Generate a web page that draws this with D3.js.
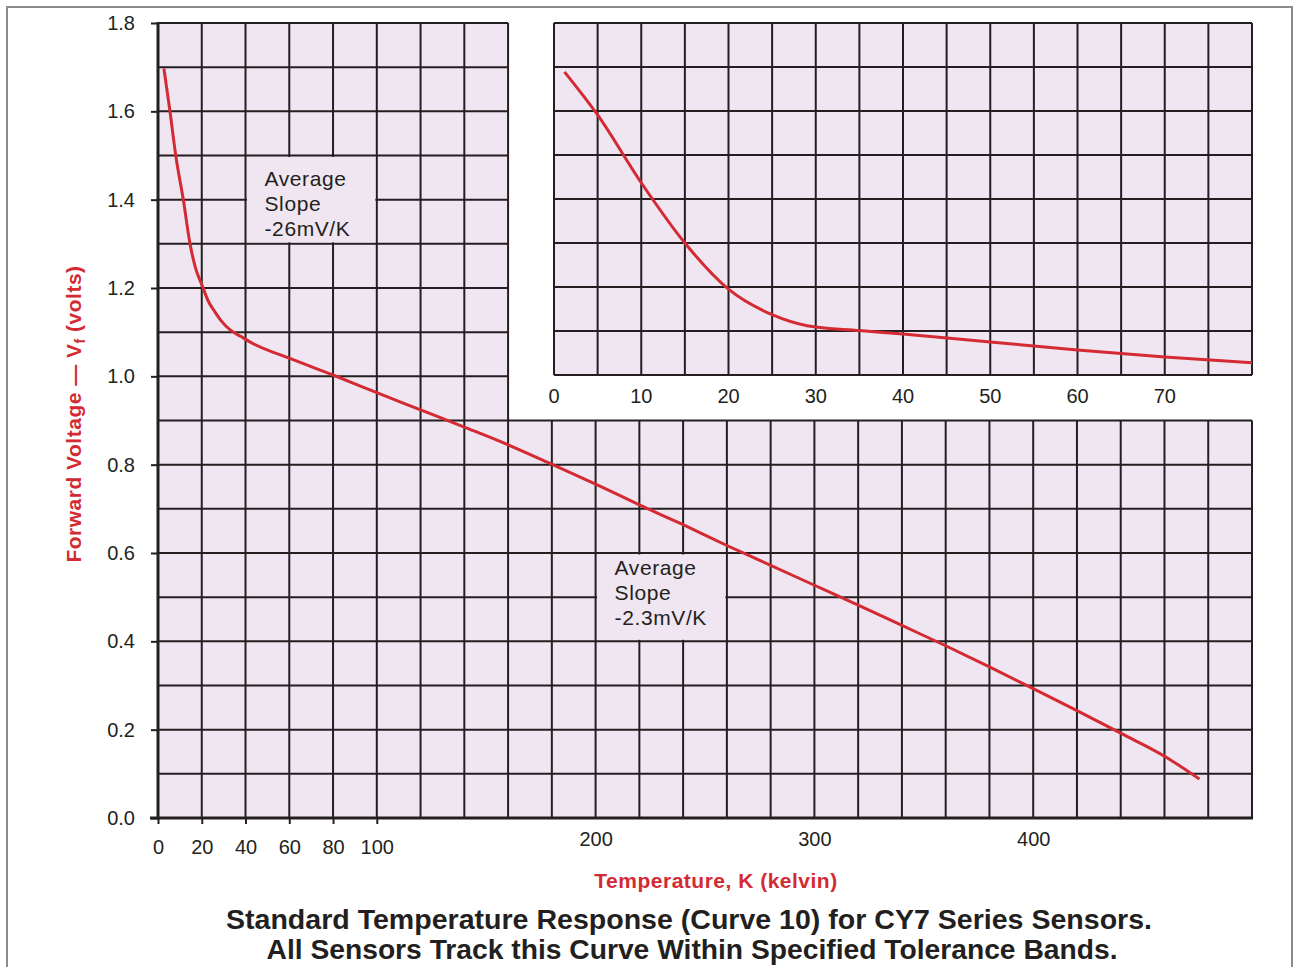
<!DOCTYPE html>
<html>
<head>
<meta charset="utf-8">
<script src="https://cdn.jsdelivr.net/npm/d3@7"></script>
<style>
  body { margin: 0; background: #fff; }
  text { font-family: "Liberation Sans", Arial, Helvetica, sans-serif; }
</style>
</head>
<body>
<div id="chart"></div>
<script>
// Curve 10 readings (kelvin, volts)
const mainTemps = [2.7, 5.5, 8.2, 11.6, 14.6, 17, 20.4, 23, 26, 29, 33, 38, 42, 60, 80, 100, 120, 140, 160, 180, 200, 220, 240, 260, 280, 300, 320, 340, 360, 380, 400, 420, 440, 460, 476];
const mainVolts = [1.697, 1.599, 1.497, 1.399, 1.301, 1.248, 1.203, 1.170, 1.146, 1.125, 1.105, 1.090, 1.078, 1.041, 1.003, 0.963, 0.924, 0.885, 0.845, 0.801, 0.756, 0.709, 0.664, 0.617, 0.572, 0.527, 0.482, 0.436, 0.390, 0.342, 0.293, 0.243, 0.192, 0.140, 0.088];

// readings
const insetTemps = [1.2, 5, 10, 15, 20, 25, 29, 35, 40, 50, 60, 70, 80];
const insetVolts = [1.689, 1.591, 1.437, 1.300, 1.195, 1.137, 1.112, 1.101, 1.093, 1.075, 1.057, 1.041, 1.028];

const yTickLabels = [0, 0.2, 0.4, 0.6, 0.8, 1.0, 1.2, 1.4, 1.6, 1.8];
const xTicksLow = [0, 20, 40, 60, 80, 100];
const xTicksHigh = [200, 300, 400];
const insetTicks = [0, 10, 20, 30, 40, 50, 60, 70];

const slopeText1 = ["Average", "Slope", "-26mV/K"];
const slopeText2 = ["Average", "Slope", "-2.3mV/K"];

const titleLines = [
  "Standard Temperature Response (Curve 10) for CY7 Series Sensors.",
  "All Sensors Track this Curve Within Specified Tolerance Bands."
];

const W = 1296, H = 967;
const ink = "#231f20", red = "#d42a33", lav = "#efe6f1";

const svg = d3.select("#chart").append("svg")
  .attr("width", W)
  .attr("height", H);

// outer frame
svg.append("rect")
  .attr("x", 7).attr("y", 7)
  .attr("width", 1285).attr("height", 990)
  .attr("fill", "none")
  .attr("stroke", "#8c8c8c")
  .attr("stroke-width", 2);

const x = d3.scaleLinear().domain([0, 500]).range([158, 1252]);
const y = d3.scaleLinear().domain([0, 1.8]).range([818, 23]);
const xi = d3.scaleLinear().domain([0, 80]).range([554, 1252]);
const yi = d3.scaleLinear().domain([1.0, 1.8]).range([375, 23]);

// the main grid is L-shaped: the top right corner is left for the inset
const cutT = 160, cutV = 0.9;

svg.append("path")
  .attr("d", d3.line()([
    [x(0), y(1.8)], [x(cutT), y(1.8)], [x(cutT), y(cutV)],
    [x(500), y(cutV)], [x(500), y(0)], [x(0), y(0)]
  ]) + "Z")
  .attr("fill", lav);

const grid = svg.append("g").attr("stroke", ink).attr("stroke-width", 2);

d3.range(0, 501, 20).forEach(t => {
  grid.append("line")
    .attr("x1", x(t)).attr("x2", x(t))
    .attr("y1", t <= cutT ? y(1.8) : y(cutV))
    .attr("y2", y(0));
});
d3.range(0, 19).map(i => i / 10).forEach(v => {
  grid.append("line")
    .attr("x1", x(0))
    .attr("x2", v <= cutV + 1e-9 ? x(500) : x(cutT))
    .attr("y1", y(v)).attr("y2", y(v));
});

// slope note boxes wipe the inner grid lines
function noteBox(t0, t1, v0, v1, lines, top) {
  svg.append("rect")
    .attr("x", x(t0) + 1.5).attr("y", y(v1) + 1.5)
    .attr("width", x(t1) - x(t0) - 3)
    .attr("height", y(v0) - y(v1) - 3)
    .attr("fill", lav);
  svg.append("g").selectAll("text")
    .data(lines)
    .enter().append("text")
    .attr("x", x(t0) + 19)
    .attr("y", (d, i) => y(v1) + top + i * 25)
    .attr("font-size", 21)
    .attr("letter-spacing", 0.6)
    .attr("fill", ink)
    .text(d => d);
}
noteBox(40, 100, 1.3, 1.5, slopeText1, 30);
noteBox(200, 260, 0.4, 0.6, slopeText2, 22);

// main axis lines
svg.append("line")
  .attr("x1", x(0)).attr("x2", x(0))
  .attr("y1", y(1.8) - 1).attr("y2", y(0))
  .attr("stroke", ink).attr("stroke-width", 3);
svg.append("line")
  .attr("x1", x(0) - 8).attr("x2", x(500) + 1)
  .attr("y1", y(0)).attr("y2", y(0))
  .attr("stroke", ink).attr("stroke-width", 3);

const line = d3.line()
  .x(d => x(d[0]))
  .y(d => y(d[1]))
  .curve(d3.curveMonotoneX);

svg.append("path")
  .datum(d3.zip(mainTemps, mainVolts))
  .attr("d", line)
  .attr("fill", "none")
  .attr("stroke", red)
  .attr("stroke-width", 3);

// inset panel
svg.append("rect")
  .attr("x", xi(0)).attr("y", yi(1.8))
  .attr("width", xi(80) - xi(0))
  .attr("height", yi(1.0) - yi(1.8))
  .attr("fill", lav);

const igrid = svg.append("g").attr("stroke", ink).attr("stroke-width", 2);
d3.range(0, 81, 5).forEach(t => {
  igrid.append("line")
    .attr("x1", xi(t)).attr("x2", xi(t))
    .attr("y1", yi(1.8)).attr("y2", yi(1.0));
});
d3.range(10, 19).map(i => i / 10).forEach(v => {
  igrid.append("line")
    .attr("x1", xi(0)).attr("x2", xi(80))
    .attr("y1", yi(v)).attr("y2", yi(v));
});

const iline = d3.line()
  .x(d => xi(d[0]))
  .y(d => yi(d[1]))
  .curve(d3.curveMonotoneX);

svg.append("path")
  .datum(d3.zip(insetTemps, insetVolts))
  .attr("d", iline)
  .attr("fill", "none")
  .attr("stroke", red)
  .attr("stroke-width", 3);

svg.append("g").selectAll("text")
  .data(insetTicks)
  .enter().append("text")
  .attr("x", d => xi(d))
  .attr("y", 403)
  .attr("text-anchor", "middle")
  .attr("font-size", 20)
  .attr("fill", ink)
  .text(d => d);

// axes
function styleAxis(g) {
  g.select(".domain").remove();
  g.selectAll(".tick line").attr("stroke", ink).attr("stroke-width", 2);
  g.selectAll(".tick text")
    .attr("font-family", "'Liberation Sans', Arial, Helvetica, sans-serif")
    .attr("font-size", 20)
    .attr("fill", ink);
}

svg.append("g")
  .attr("transform", "translate(" + x(0) + ",0)")
  .call(d3.axisLeft(y).tickValues(yTickLabels).tickFormat(d3.format(".1f")).tickSize(7).tickPadding(16))
  .call(styleAxis);

svg.append("g")
  .attr("transform", "translate(0," + y(0) + ")")
  .call(d3.axisBottom(x).tickValues(xTicksLow).tickSize(6).tickPadding(16))
  .call(styleAxis);

svg.append("g")
  .attr("transform", "translate(0," + y(0) + ")")
  .call(d3.axisBottom(x).tickValues(xTicksHigh).tickSize(0).tickPadding(14))
  .call(styleAxis);

// axis titles
const yTitle = svg.append("text")
  .attr("transform", "translate(81,414) rotate(-90)")
  .attr("text-anchor", "middle")
  .attr("font-size", 21)
  .attr("font-weight", "bold")
  .attr("letter-spacing", 0.5)
  .attr("fill", red);
yTitle.append("tspan").text("Forward Voltage \u2014 V");
yTitle.append("tspan").attr("font-size", 14).attr("dy", 4).text("f");
yTitle.append("tspan").attr("dy", -4).text(" (volts)");

svg.append("text")
  .attr("x", 716).attr("y", 888)
  .attr("text-anchor", "middle")
  .attr("font-size", 21)
  .attr("font-weight", "bold")
  .attr("letter-spacing", 0.5)
  .attr("fill", red)
  .text("Temperature, K (kelvin)");

// caption
const capWidths = [926, 851];
const capCenters = [689, 692];
svg.append("g").selectAll("text")
  .data(titleLines)
  .enter().append("text")
  .attr("x", (d, i) => capCenters[i])
  .attr("y", (d, i) => 929 + i * 30)
  .attr("text-anchor", "middle")
  .attr("font-size", 27)
  .attr("font-weight", "bold")
  .attr("fill", ink)
  .attr("textLength", (d, i) => capWidths[i])
  .attr("lengthAdjust", "spacingAndGlyphs")
  .text(d => d);
</script>
</body>
</html>
